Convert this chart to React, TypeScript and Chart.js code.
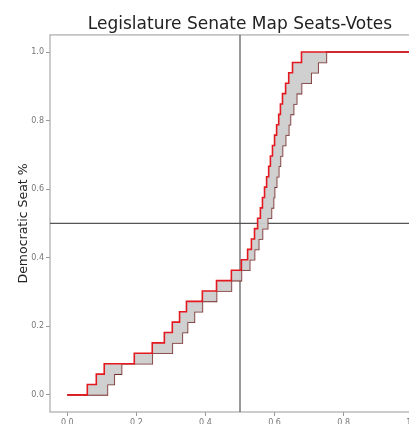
import React, { useEffect, useRef } from 'react';
import { Chart, registerables } from 'chart.js';

Chart.register(...registerables);

const TITLE = 'Legislature Senate Map Seats-Votes';
const Y_LABEL = 'Democratic Seat %';
const SEATS = 33;

// vote share at which curve reaches k seats (k = 1..SEATS)
const voteA = [
  0.058, 0.084, 0.107, 0.194, 0.246, 0.281, 0.304, 0.325, 0.345, 0.391, 0.432,
  0.475, 0.504, 0.522, 0.533, 0.542, 0.551, 0.559, 0.565, 0.571, 0.577, 0.583,
  0.588, 0.594, 0.6, 0.606, 0.612, 0.617, 0.623, 0.632, 0.641, 0.652, 0.678,
];
const voteB = [
  0.116, 0.136, 0.157, 0.246, 0.304, 0.333, 0.348, 0.368, 0.391, 0.432, 0.475,
  0.504, 0.528, 0.542, 0.554, 0.565, 0.58, 0.591, 0.597, 0.6, 0.606, 0.612,
  0.617, 0.623, 0.632, 0.641, 0.646, 0.655, 0.664, 0.678, 0.706, 0.726, 0.75,
];

const xTicks = [0, 0.2, 0.4, 0.6, 0.8, 1.0];
const yTicks = [0, 0.2, 0.4, 0.6, 0.8, 1.0];
const refVote = 0.5;
const refSeat = 0.5;
const axisMin = -0.05;
const axisMax = 1.05;

function stepPoints(votes: number[]) {
  return [
    { x: 0, y: 0 },
    ...votes.map((v, i) => ({ x: v, y: (i + 1) / SEATS })),
    { x: 1, y: 1 },
  ];
}

const FONT = 'DejaVu Sans';

export default function App() {
  const ref = useRef<HTMLCanvasElement>(null);

  useEffect(() => {
    const canvas = ref.current;
    if (!canvas) return;

    const framePlugin = {
      id: 'frame',
      beforeDatasetsDraw(chart: any) {
        const { ctx, chartArea: a } = chart;
        ctx.save();
        ctx.strokeStyle = '#aaaaaa';
        ctx.lineWidth = 1.2;
        ctx.strokeRect(a.left, a.top, a.right - a.left, a.bottom - a.top);
        ctx.restore();
      },
    };

    const tickCfg = {
      font: { size: 8, family: FONT },
      color: '#777777',
      padding: 2,
      callback: (v: any) => Number(v).toFixed(1),
    };

    const chart = new Chart(canvas, {
      type: 'line',
      data: {
        datasets: [
          {
            label: 'Seats-Votes',
            data: stepPoints(voteA),
            stepped: 'before',
            borderColor: '#e3191f',
            borderWidth: 1.6,
            pointRadius: 0,
            fill: '+1',
            backgroundColor: 'rgba(205,205,205,0.95)',
          },
          {
            label: 'Reflected',
            data: stepPoints(voteB),
            stepped: 'before',
            borderColor: '#7a2d2d',
            borderWidth: 1.6,
            pointRadius: 0,
            fill: false,
          },
          {
            label: 'Vote 50%',
            data: [
              { x: refVote, y: axisMin },
              { x: refVote, y: axisMax },
            ],
            borderColor: '#555555',
            borderWidth: 1.2,
            pointRadius: 0,
            fill: false,
          },
          {
            label: 'Seat 50%',
            data: [
              { x: axisMin, y: refSeat },
              { x: axisMax, y: refSeat },
            ],
            borderColor: '#555555',
            borderWidth: 1.2,
            pointRadius: 0,
            fill: false,
          },
        ],
      } as any,
      options: {
        animation: false,
        responsive: false,
        devicePixelRatio: 1,
        layout: { padding: { left: 0, right: 20, top: 0, bottom: 0 } },
        plugins: {
          legend: { display: false },
          tooltip: { enabled: false },
          title: {
            display: true,
            text: TITLE,
            fullSize: false,
            color: '#222222',
            font: { size: 17, family: FONT, weight: 'normal' },
            padding: { top: 14.5, bottom: 0 },
          },
        },
        scales: {
          x: {
            type: 'linear',
            min: axisMin,
            max: axisMax,
            afterBuildTicks: (axis: any) => {
              axis.ticks = xTicks.map((value) => ({ value }));
            },
            afterFit: (scale: any) => {
              scale.height = 20;
              scale.paddingLeft = 0;
              scale.paddingRight = 0;
            },
            grid: { drawOnChartArea: false, tickLength: 4, color: '#999999' },
            border: { display: false },
            ticks: tickCfg,
          },
          y: {
            type: 'linear',
            min: axisMin,
            max: axisMax,
            afterBuildTicks: (axis: any) => {
              axis.ticks = yTicks.map((value) => ({ value }));
            },
            afterFit: (scale: any) => {
              scale.width = 50;
            },
            grid: { drawOnChartArea: false, tickLength: 4, color: '#999999' },
            border: { display: false },
            ticks: tickCfg,
            title: {
              display: true,
              text: Y_LABEL,
              color: '#222222',
              font: { size: 12.5, family: FONT },
              padding: { top: 16, bottom: 0 },
            },
          },
        },
      } as any,
      plugins: [framePlugin],
    });

    return () => chart.destroy();
  }, []);

  return (
    <div
      style={{
        position: 'fixed',
        left: 0,
        top: 0,
        width: 409,
        height: 424,
        overflow: 'hidden',
        background: '#ffffff',
      }}
    >
      <canvas ref={ref} width={450} height={432} style={{ display: 'block' }} />
    </div>
  );
}
